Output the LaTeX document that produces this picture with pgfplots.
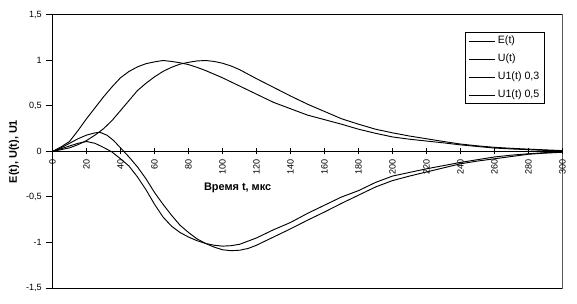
\documentclass[border=0pt]{standalone}
\usepackage{fontspec}
\setmainfont{Liberation Sans}
\usepackage{pgfplots}
\usepackage{pgfplotstable}
\pgfplotsset{compat=1.18}

\pgfplotstableread{
t v
0 0
5 0.05
10 0.11
15 0.23
20 0.36
25 0.48
30 0.60
35 0.71
40 0.81
45 0.88
50 0.93
55 0.965
60 0.985
65 1.0
70 0.99
75 0.975
80 0.955
85 0.925
90 0.89
95 0.85
100 0.81
110 0.72
120 0.63
130 0.54
140 0.47
150 0.40
160 0.35
170 0.30
180 0.245
190 0.20
200 0.16
210 0.135
220 0.115
230 0.095
240 0.073
250 0.055
260 0.038
270 0.028
280 0.02
290 0.012
300 0.006
}\Et

\pgfplotstableread{
t v
0 0
5 0.02
10 0.04
15 0.075
20 0.12
25 0.18
30 0.25
35 0.34
40 0.45
45 0.56
50 0.67
55 0.75
60 0.82
65 0.88
70 0.925
75 0.96
80 0.98
85 0.995
90 1.0
95 0.99
100 0.97
105 0.94
110 0.90
120 0.80
130 0.705
140 0.61
150 0.52
160 0.44
170 0.36
180 0.30
190 0.245
200 0.205
210 0.17
220 0.14
230 0.11
240 0.082
250 0.062
260 0.046
270 0.035
280 0.026
290 0.018
300 0.01
}\Ut

\pgfplotstableread{
t v
0 0
5 0.03
10 0.06
15 0.09
20 0.11
25 0.09
30 0.045
35 -0.005
40 -0.08
45 -0.16
50 -0.28
55 -0.42
60 -0.58
65 -0.72
70 -0.82
75 -0.89
80 -0.94
85 -0.98
90 -1.01
95 -1.03
100 -1.04
105 -1.035
110 -1.02
120 -0.95
130 -0.86
140 -0.78
150 -0.68
160 -0.59
170 -0.50
180 -0.43
190 -0.34
200 -0.27
210 -0.23
220 -0.19
230 -0.155
240 -0.12
250 -0.09
260 -0.06
270 -0.04
280 -0.025
290 -0.012
300 -0.005
}\Uthree

\pgfplotstableread{
t v
0 0
5 0.04
10 0.09
15 0.14
20 0.18
25 0.205
28 0.21
32 0.18
36 0.12
40 0.04
42 0
45 -0.06
50 -0.17
55 -0.30
60 -0.45
65 -0.58
70 -0.70
75 -0.81
80 -0.89
85 -0.96
90 -1.01
95 -1.05
100 -1.08
105 -1.09
110 -1.085
115 -1.066
120 -1.03
130 -0.94
140 -0.85
150 -0.755
160 -0.665
170 -0.57
180 -0.48
190 -0.39
200 -0.32
210 -0.27
220 -0.225
230 -0.18
240 -0.135
250 -0.105
260 -0.08
270 -0.055
280 -0.03
290 -0.018
300 -0.008
}\Ufive

\begin{document}
\begin{tikzpicture}
\useasboundingbox (-39.375pt,-11.25pt) rectangle (393.375pt,216pt);
\begin{axis}[
  scale only axis,
  width=382.5pt, height=204.75pt,
  xmin=0, xmax=300, ymin=-1.5, ymax=1.5,
  axis x line*=middle,
  axis y line*=left,
  hide obscured x ticks=false,
  hide obscured y ticks=false,
  xtick={0,20,...,300},
  ytick={-1.5,-1,-0.5,0,0.5,1,1.5},
  xtick align=center,
  ytick align=outside,
  major tick length=4.5pt,
  minor tick num=0,
  axis line style={line width=0.75pt},
  every tick/.style={black, line width=0.75pt},
  /pgf/number format/assume math mode=true,
  /pgf/number format/use comma,
  xticklabel style={rotate=90, anchor=east, font=\fontsize{6.8}{8}\selectfont},
  yticklabel style={font=\fontsize{6.8}{8}\selectfont, /pgf/number format/fixed},
  scaled ticks=false,
  xlabel={\bfseries Время t, мкс},
  xlabel style={at={(axis description cs:0.363,0.368)}, anchor=center, font=\fontsize{8.2}{10}\selectfont},
  ylabel={\bfseries E(t), U(t), U1},
  ylabel style={at={(axis description cs:-0.0755,0.5)}, anchor=center, font=\fontsize{8.2}{10}\selectfont},
  legend style={at={(axis description cs:0.809,0.938)}, anchor=north west,
    draw=black, line width=0.75pt, fill=white,
    font=\fontsize{8}{9.6}\selectfont,
    inner xsep=2pt, inner ysep=2.5pt, row sep=5.5pt,
    nodes={inner ysep=0pt, text height=6pt, text depth=2pt}},
  legend cell align=left,
  legend image code/.code={\draw[#1] (0pt,0pt) -- (19.5pt,0pt);},
]
\addplot[black, line width=0.7pt] table {\Et};
\addlegendentry{E(t)}
\addplot[black, line width=0.7pt] table {\Ut};
\addlegendentry{U(t)}
\addplot[black, line width=0.7pt] table {\Uthree};
\addlegendentry{U1(t) 0,3}
\addplot[black, line width=0.7pt] table {\Ufive};
\addlegendentry{U1(t) 0,5}
\draw[black, line width=0.75pt] (rel axis cs:0,0) -- (rel axis cs:1,0) -- (rel axis cs:1,1) -- (rel axis cs:0,1);
\end{axis}
\end{tikzpicture}
\end{document}
